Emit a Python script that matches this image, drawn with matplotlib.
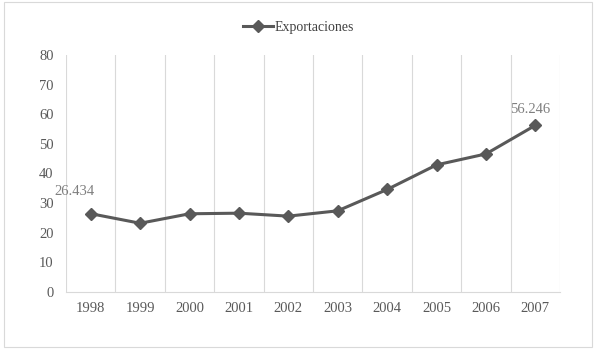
import matplotlib.pyplot as plt
from matplotlib.patches import Rectangle

years = ['1998', '1999', '2000', '2001', '2002', '2003', '2004', '2005', '2006', '2007']
exportaciones = [26.434, 23.2, 26.4, 26.6, 25.6, 27.4, 34.6, 42.9, 46.6, 56.246]

plt.rcParams['font.family'] = ['Liberation Serif', 'DejaVu Serif']

fig = plt.figure(figsize=(5.97, 3.52), dpi=100)
ax = fig.add_axes([0.1106, 0.1705, 0.8275, 0.6733])

x = list(range(len(years)))
ax.plot(x, exportaciones, color='#595959', lw=2.2, marker='D', ms=6,
        label='Exportaciones', zorder=3)

ax.set_xlim(-0.5, len(years) - 0.5)
ax.set_ylim(0, 80)
ax.set_yticks(range(0, 81, 10))
ax.set_xticks(x)
ax.set_xticklabels(years)

# vertical grid at category boundaries
for b in range(len(years) + 1):
    ax.axvline(b - 0.5, color='#d9d9d9', lw=0.8, zorder=0)

for s in ['top', 'right', 'left']:
    ax.spines[s].set_visible(False)
ax.spines['bottom'].set_color('#d9d9d9')
ax.tick_params(axis='both', length=0, colors='#595959', labelsize=10.5)
ax.tick_params(axis='y', pad=9)
ax.tick_params(axis='x', pad=7)

# data labels for first and last points
ax.annotate(f'{exportaciones[0]:.3f}', (x[0], exportaciones[0]), xytext=(-12, 11),
            textcoords='offset points', ha='center', va='bottom',
            color='#7f7f7f', fontsize=10.5)
ax.annotate(f'{exportaciones[-1]:.3f}', (x[-1], exportaciones[-1]), xytext=(-4, 7),
            textcoords='offset points', ha='center', va='bottom',
            color='#7f7f7f', fontsize=10.5)

fig.legend(loc='upper center', bbox_to_anchor=(0.5, 0.975), frameon=False,
           fontsize=10, handlelength=2.2, handletextpad=0.1,
           labelcolor='#404040')

fig.patches.append(Rectangle((0.006, 0.015), 0.986, 0.98, transform=fig.transFigure,
                             fill=False, edgecolor='#d9d9d9', lw=0.8))

fig.savefig('out.png', dpi=100)
